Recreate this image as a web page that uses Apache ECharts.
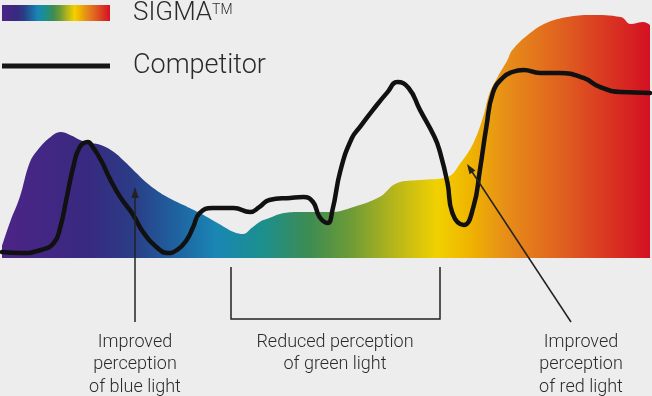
<!DOCTYPE html>
<html>
<head>
<meta charset="utf-8">
<script src="https://cdn.jsdelivr.net/npm/echarts@6/dist/echarts.min.js"></script>
<style>
html,body{margin:0;padding:0;background:#ecedec;}
#chart{width:652px;height:396px;}
</style>
</head>
<body>
<div id="chart"></div>
<script>
// Wavelength (nm) and relative intensity (%)
const sigmaWavelength = [380,385,391,397,402,410,416,422,430,441,449,456,461,471,482,492,502,513,523,529,534,539,545,554,564,583,597,613,624,638,655,663,671,677,681,686,692,695,706,716,729,743,762,768,776,780];
const sigmaValues     = [4.7,14.0,23.6,36.8,41.9,46.9,48.8,47.7,45.3,43.8,41.1,37.2,34.1,28.3,23.6,20.5,17.4,13.6,10.1,9.3,11.6,14.0,15.5,17.4,17.8,17.8,19.8,23.6,29.1,30.2,31.4,36.8,44.6,54.7,64.0,70.2,76.7,80.6,87.2,91.1,93.4,94.2,93.4,90.7,91.5,90.3];

const competitorWavelength = [380,391,404,412,416,420,424,428,433,436,441,447,453,461,467,476,482,488,494,498,502,510,523,533,539,545,558,566,572,576,581,584,589,596,601,609,618,624,631,638,647,650,655,658,665,671,675,679,683,689,695,702,712,724,739,749,762,780];
const competitorValues     = [2.3,1.9,3.1,5.8,12.0,23.6,35.3,43.0,45.0,43.0,38.0,30.2,23.6,16.7,10.1,3.9,1.9,3.1,7.0,12.0,17.4,19.4,19.4,17.8,19.8,22.5,23.3,23.6,21.7,15.9,13.6,18.6,34.1,46.5,50.8,57.4,64.3,68.2,65.9,57.4,46.9,41.9,29.1,17.4,12.8,19.8,34.1,50.8,64.0,69.8,72.1,72.9,71.7,71.7,69.8,66.3,64.3,64.0];

const seriesNames = ['SIGMA', 'Competitor'];
const annotationTexts = ['Improved\nperception\nof blue light', 'Reduced perception\nof green light', 'Improved\nperception\nof red light'];

const spectrumStops = [
  [0.000,'#4d2487'],[0.136,'#372a80'],[0.200,'#2b3c86'],[0.270,'#1e63a0'],
  [0.330,'#1a86b4'],[0.400,'#1b8f8f'],[0.475,'#3e8c52'],[0.537,'#6c9b37'],
  [0.607,'#b8b61a'],[0.671,'#f1d100'],[0.722,'#efb400'],[0.776,'#e78f18'],
  [0.861,'#e0621f'],[0.938,'#d93422'],[1.000,'#d41022']
];
function spectrum(){
  return new echarts.graphic.LinearGradient(0,0,1,0, spectrumStops.map(s=>({offset:s[0],color:s[1]})));
}

const chart = echarts.init(document.getElementById('chart'), null, {renderer:'canvas'});
const FONT = 'Roboto, "Noto Sans", sans-serif';
const textColor = '#2b2b2b';

chart.setOption({
  backgroundColor: '#ecedec',
  animation: false,
  grid: {left: 2, right: 2, top: 0, bottom: 138},
  xAxis: {type:'value', min:380, max:780, show:false},
  yAxis: {type:'value', min:0, max:100, show:false},
  legend: [
    {
      data: [{name: seriesNames[0], icon:'rect', itemStyle:{color: spectrum()}}],
      left: 2, top: 0, padding: 0, itemWidth: 108, itemHeight: 16,
      formatter: () => '{m|SIGMA}{tm|TM}',
      selectedMode: false,
      textStyle: {
        padding: [0,0,0,18],
        rich: {
          m: {fontSize: 26, fontFamily: FONT, fontWeight: 300, color: textColor, lineHeight: 20},
          tm: {fontSize: 14, fontFamily: FONT, fontWeight: 300, color: textColor, verticalAlign: 'top', lineHeight: 12}
        }
      }
    },
    {
      data: [{name: seriesNames[1], icon:'rect', itemStyle:{color:'#151515'}}],
      left: 2, top: 47, padding: 0, itemWidth: 108, itemHeight: 5,
      selectedMode: false,
      textStyle: {fontSize: 27, fontFamily: FONT, fontWeight: 300, color: textColor, padding:[0,0,6,18], lineHeight: 32}
    }
  ],
  series: [
    {
      name: seriesNames[0],
      type: 'line',
      data: sigmaWavelength.map((w,i)=>[w, sigmaValues[i]]),
      smooth: 0.4,
      showSymbol: false,
      itemStyle: {color: spectrum()},
      lineStyle: {width: 0},
      areaStyle: {color: spectrum(), opacity: 1},
      z: 1
    },
    {
      name: seriesNames[1],
      type: 'line',
      data: competitorWavelength.map((w,i)=>[w, competitorValues[i]]),
      smooth: 0.5,
      showSymbol: false,
      itemStyle: {color: '#111'},
      lineStyle: {width: 4.5, color: '#111', cap:'round', join:'round'},
      z: 3
    }
  ],
  graphic: [
    {type:'line', z:10, shape:{x1:135, y1:322, x2:135, y2:196}, style:{stroke:'#222', lineWidth:1.5}},
    {type:'polygon', z:10, shape:{points:[[135,187],[131.3,198],[138.7,198]]}, style:{fill:'#222'}},
    {type:'polyline', z:10, shape:{points:[[231,267],[231,319],[440,319],[440,267]]}, style:{stroke:'#222', lineWidth:1.5, fill:null}},
    {type:'line', z:10, shape:{x1:571, y1:322, x2:471.5, y2:171}, style:{stroke:'#222', lineWidth:1.5}},
    {type:'polygon', z:10, shape:{points:[[467,164],[475.4,170.4],[469.6,174.3]]}, style:{fill:'#222'}},
    {type:'text', z:10, x:135, y:331, style:{text: annotationTexts[0], align:'center', verticalAlign:'top', fontSize:18, lineHeight:22.5, fontFamily:FONT, fontWeight:300, fill:textColor}},
    {type:'text', z:10, x:335, y:331, style:{text: annotationTexts[1], align:'center', verticalAlign:'top', fontSize:18, lineHeight:22.5, fontFamily:FONT, fontWeight:300, fill:textColor}},
    {type:'text', z:10, x:581, y:331, style:{text: annotationTexts[2], align:'center', verticalAlign:'top', fontSize:18, lineHeight:22.5, fontFamily:FONT, fontWeight:300, fill:textColor}}
  ]
});
</script>
</body>
</html>
